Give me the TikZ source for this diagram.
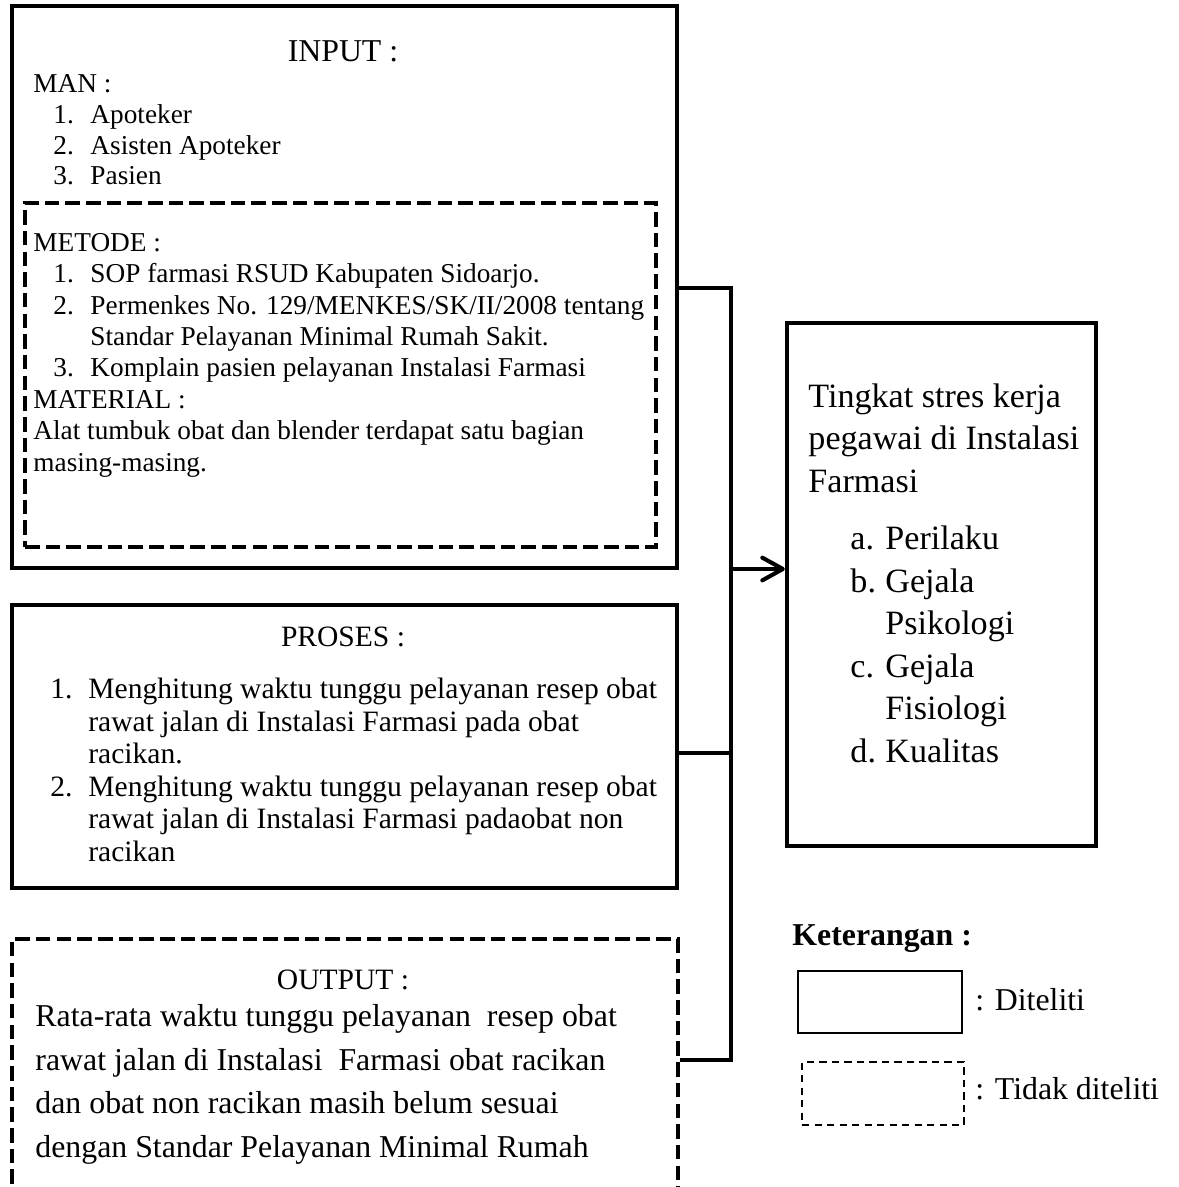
\documentclass[tikz,border=0pt]{standalone}
\usepackage{fontspec}
\setmainfont{Liberation Serif}
\usetikzlibrary{arrows.meta, positioning, fit}

\newcommand{\itm}[2]{\hspace*{8.8pt}\makebox[16.3pt][l]{#1}#2}
\newcommand{\cnt}{\hspace*{25.1pt}}

\begin{document}
\begin{tikzpicture}[
  x=0.44pt, y=-0.44pt,
  every node/.style={inner sep=0pt},
  box/.style={draw, line width=1.9pt},
  dbox/.style={draw, line width=1.7pt, dash pattern=on 6.4pt off 2.7pt},
  lbox/.style={draw, line width=0.9pt},
  ldbox/.style={draw, line width=0.9pt, dash pattern=on 3.2pt off 2.3pt},
  txt/.style={anchor=base west, align=left},
  head/.style={anchor=base},
  bus/.style={line width=1.8pt},
  arr/.style={-{Straight Barb[length=9pt,width=10pt,line width=1.8pt,round]}, line width=1.4pt}
]
  \useasboundingbox (0,0) rectangle (1179,1187);

  \node[box, fit={(12,6) (677,568)}] (input) {};
  \node[dbox, fit={(25,203) (656,547)}] (metode) {};
  \node[box, fit={(12,605) (677,888)}] (proses) {};
  \node[dbox, fit={(12,939) (678,1300)}] (output) {};
  \node[box, fit={(787,323) (1096,846)}] (hasil) {};
  \node[lbox, fit={(798,971) (962,1033)}] (diteliti) {};
  \node[ldbox, fit={(802,1062) (964,1125)}] (tidak) {};

  \node[head, font=\fontsize{14}{16}\selectfont] (inhead) at (343,62) {INPUT :};
  \node[txt, font=\fontsize{12}{13.5}\selectfont] (man) at (33,185)
    {MAN :\\ \itm{1.}{Apoteker}\\ \itm{2.}{Asisten Apoteker}\\ \itm{3.}{Pasien}};
  \node[txt, font=\fontsize{12}{13.8}\selectfont] (mettext) at (33,471)
    {METODE :\\
     \itm{1.}{SOP farmasi RSUD Kabupaten Sidoarjo.}\\
     \itm{2.}{Permenkes No. 129/MENKES/SK/II/2008 tentang}\\
     \cnt Standar Pelayanan Minimal Rumah Sakit.\\
     \itm{3.}{Komplain pasien pelayanan Instalasi Farmasi}\\
     MATERIAL :\\
     Alat tumbuk obat dan blender terdapat satu bagian\\
     masing-masing.};

  \node[head, font=\fontsize{13}{15}\selectfont] (proshead) at (343,646) {PROSES :};
  \node[txt, font=\fontsize{13}{14.3}\selectfont] (prostext) at (50,861)
    {\makebox[16.7pt][l]{1.}Menghitung waktu tunggu pelayanan resep obat\\
     \hspace*{16.7pt}rawat jalan di Instalasi Farmasi pada obat\\
     \hspace*{16.7pt}racikan.\\
     \makebox[16.7pt][l]{2.}Menghitung waktu tunggu pelayanan resep obat\\
     \hspace*{16.7pt}rawat jalan di Instalasi Farmasi padaobat non\\
     \hspace*{16.7pt}racikan};

  \node[head, font=\fontsize{13}{15}\selectfont] (outhead) at (343,989) {OUTPUT :};
  \node[txt, font=\fontsize{14}{19.1}\selectfont] (outtext) at (35,1157)
    {Rata-rata waktu tunggu pelayanan\ \ resep obat\\
     rawat jalan di Instalasi\ \ Farmasi obat racikan\\
     dan obat non racikan masih belum sesuai\\
     dengan Standar Pelayanan Minimal Rumah};

  \node[txt, font=\fontsize{15}{18.7}\selectfont] (hastext) at (808,492)
    {Tingkat stres kerja\\ pegawai di Instalasi\\ Farmasi};
  \node[txt, font=\fontsize{15}{18.7}\selectfont] (haslist) at (850,762)
    {\makebox[15.4pt][l]{a.}Perilaku\\
     \makebox[15.4pt][l]{b.}Gejala\\
     \hspace*{15.4pt}Psikologi\\
     \makebox[15.4pt][l]{c.}Gejala\\
     \hspace*{15.4pt}Fisiologi\\
     \makebox[15.4pt][l]{d.}Kualitas};

  \node[txt, font=\fontsize{14}{16}\selectfont\bfseries] (ket) at (792,945) {Keterangan :};
  \node[txt, font=\fontsize{14}{16}\selectfont] (ketdit) at (975,1010) {: Diteliti};
  \node[txt, font=\fontsize{14}{16}\selectfont] (kettdk) at (975,1099) {: Tidak diteliti};

  \coordinate (bt) at (731,288);
  \coordinate (bm) at (731,753);
  \coordinate (bb) at (731,1060);
  \coordinate (ba) at (731,569);

  \draw[bus] (input.east |- bt) -- (bt) -- (bb) -- (output.east |- bb);
  \draw[bus] (proses.east |- bm) -- (bm);
  \draw[arr] (ba) -- (hasil.west |- ba);
\end{tikzpicture}
\end{document}
